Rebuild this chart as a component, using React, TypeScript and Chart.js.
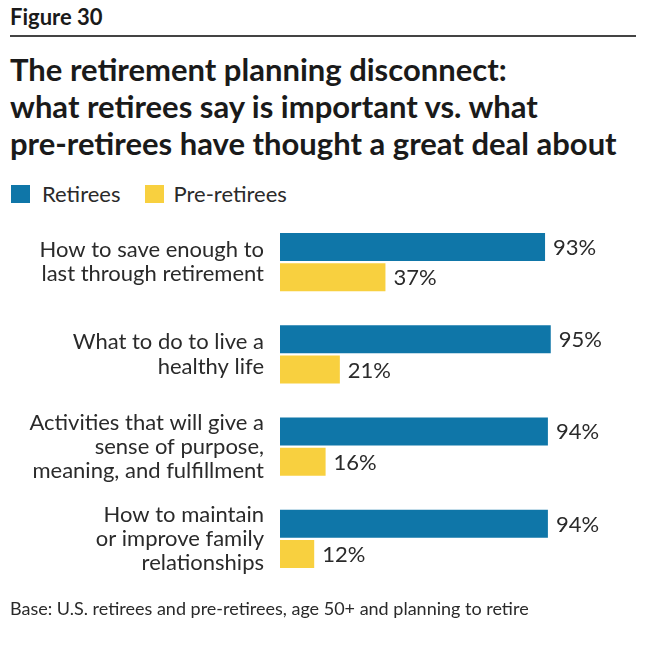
import React, { useEffect, useRef } from "react";
import { Chart, registerables } from "chart.js";

Chart.register(...registerables);

const categories: string[][] = [
  ["How to save enough to", "last through retirement"],
  ["What to do to live a", "healthy life"],
  ["Activities that will give a", "sense of purpose,", "meaning, and fulfillment"],
  ["How to maintain", "or improve family", "relationships"],
];
const retirees: number[] = [93, 95, 94, 94];
const preRetirees: number[] = [37, 21, 16, 12];
const seriesNames: string[] = ["Retirees", "Pre-retirees"];
const seriesColors: string[] = ["#0f76a8", "#f8d03f"];

const FONT = "Lato, 'Noto Sans', sans-serif";
const TEXT = "#2a2a2a";

const valueLabels = {
  id: "valueLabels",
  afterDatasetsDraw(chart: any) {
    const ctx = chart.ctx;
    ctx.save();
    ctx.font = `22px ${FONT}`;
    ctx.fillStyle = TEXT;
    ctx.textAlign = "left";
    ctx.textBaseline = "middle";
    chart.data.datasets.forEach((ds: any, di: number) => {
      const meta = chart.getDatasetMeta(di);
      meta.data.forEach((bar: any, i: number) => {
        ctx.fillText(`${ds.data[i]}%`, bar.x + 8, bar.y + 1);
      });
    });
    ctx.restore();
  },
};

export default function App() {
  const ref = useRef<HTMLCanvasElement | null>(null);

  useEffect(() => {
    if (!ref.current) return;
    const chart = new Chart(ref.current, {
      type: "bar",
      data: {
        labels: categories,
        datasets: [
          {
            label: seriesNames[0],
            data: retirees,
            backgroundColor: seriesColors[0],
            categoryPercentage: 0.66,
            barPercentage: 0.92,
          },
          {
            label: seriesNames[1],
            data: preRetirees,
            backgroundColor: seriesColors[1],
            categoryPercentage: 0.66,
            barPercentage: 0.92,
          },
        ],
      },
      options: {
        indexAxis: "y",
        animation: false,
        responsive: false,
        maintainAspectRatio: false,
        layout: { padding: { left: 0, right: 85, top: 16, bottom: 15 } },
        plugins: {
          legend: { display: false },
          tooltip: { enabled: false },
        },
        scales: {
          x: {
            min: 0,
            max: 100,
            display: false,
          },
          y: {
            grid: { display: false, drawTicks: false },
            border: { display: false },
            ticks: {
              color: TEXT,
              padding: 16,
              font: { family: FONT, size: 22, lineHeight: 1.1 },
            },
            afterFit: (scale: any) => {
              scale.width = 280;
              scale.paddingTop = 0;
              scale.paddingBottom = 0;
            },
          },
        },
      },
      plugins: [valueLabels],
    });
    return () => chart.destroy();
  }, []);

  const abs = (style: React.CSSProperties): React.CSSProperties => ({
    position: "absolute",
    margin: 0,
    whiteSpace: "nowrap",
    color: TEXT,
    fontFamily: FONT,
    ...style,
  });

  return (
    <div style={{ position: "absolute", left: 0, top: 0, width: 650, height: 646, background: "#fff", overflow: "hidden" }}>
      <div style={abs({ left: 10, top: 4, fontSize: 22, fontWeight: 700, lineHeight: "26px", color: "#1a1a1a" })}>Figure 30</div>
      <div style={{ position: "absolute", left: 10, top: 35, width: 626, height: 2, background: "#444" }} />
      <div style={abs({ left: 10, top: 51, fontSize: 31, fontWeight: 700, lineHeight: "37px", color: "#1a1a1a" })}>
        The retirement planning disconnect:
        <br />
        what retirees say is important vs. what
        <br />
        pre-retirees have thought a great deal about
      </div>
      <div style={abs({ left: 11, top: 182, fontSize: 22, lineHeight: "24px", display: "flex", alignItems: "center" })}>
        <span style={{ display: "inline-block", width: 19, height: 18, background: seriesColors[0], marginRight: 12 }} />
        <span style={{ marginRight: 25 }}>{seriesNames[0]}</span>
        <span style={{ display: "inline-block", width: 19, height: 18, background: seriesColors[1], marginRight: 9 }} />
        <span>{seriesNames[1]}</span>
      </div>
      <canvas ref={ref} width={650} height={400} style={{ position: "absolute", left: 0, top: 200, width: 650, height: 400 }} />
      <div style={abs({ left: 10, top: 597, fontSize: 18, lineHeight: "22px" })}>
        Base: U.S. retirees and pre-retirees, age 50+ and planning to retire
      </div>
    </div>
  );
}
